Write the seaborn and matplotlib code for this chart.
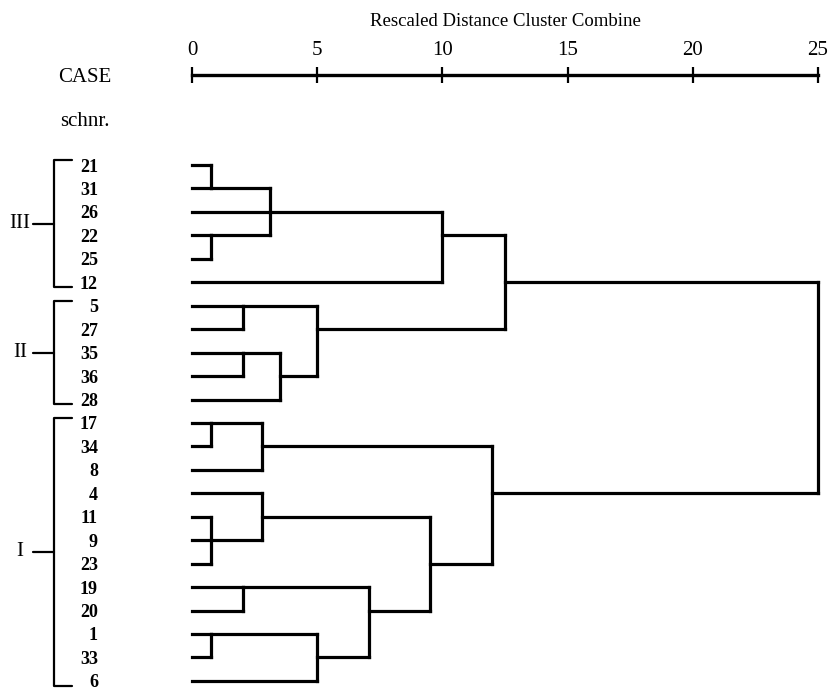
import numpy as np
import pandas as pd
import matplotlib
matplotlib.use("Agg")
import matplotlib.pyplot as plt
import matplotlib.transforms as mtransforms
import seaborn as sns

# ---------------- data ----------------
leaves = ["21", "31", "26", "22", "25", "12", "5", "27", "35", "36", "28",
          "17", "34", "8", "4", "11", "9", "23", "19", "20", "1", "33", "6"]

# merges: children are leaf indices (0..22) or merge ids (23 + k)
merge_children = [[0, 1], [3, 4], [23, 2, 24], [25, 5],
                  [6, 7], [8, 9], [28, 10], [27, 29], [26, 30],
                  [11, 12], [32, 13], [15, 16, 17], [14, 34], [18, 19],
                  [20, 21], [37, 22], [36, 38], [35, 39], [33, 40], [31, 41]]
merge_heights = [0.75, 0.75, 3.1, 10.0,
                 2.05, 2.05, 3.5, 5.0, 12.5,
                 0.75, 2.8, 0.75, 2.8, 2.05,
                 0.75, 5.0, 7.05, 9.5, 12.0, 25.0]
# row (leaf line) on which each merged cluster continues; root has none
merge_rows = [1, 3, 2, 3,
              6, 8, 9, 7, 5,
              11, 12, 16, 15, 18,
              20, 21, 19, 17, 14, None]

scale_ticks = [0, 5, 10, 15, 20, 25]
group_names = ["III", "II", "I"]
group_first = ["21", "5", "17"]
group_last = ["12", "28", "6"]

title = "Rescaled Distance Cluster Combine"

# ---------------- build segments ----------------
n = len(leaves)
node_row = {i: i for i in range(n)}
node_h = {i: 0.0 for i in range(n)}
parent = {}
for k, (ch, h, r) in enumerate(zip(merge_children, merge_heights, merge_rows)):
    nid = n + k
    node_row[nid] = r
    node_h[nid] = h
    for c in ch:
        parent[c] = nid

recs = []
seg = 0
for node, par in parent.items():
    r = node_row[node]
    recs += [(seg, node_h[node], r), (seg, node_h[par], r)]
    seg += 1
for k, ch in enumerate(merge_children):
    rows = [node_row[c] for c in ch]
    h = merge_heights[k]
    recs += [(seg, h, min(rows)), (seg, h, max(rows))]
    seg += 1
df = pd.DataFrame(recs, columns=["seg", "dist", "row"])

# ---------------- figure ----------------
sns.set_theme(style="white")
plt.rcParams["font.family"] = ["Liberation Serif", "DejaVu Serif"]

W, H = 837, 690
fig = plt.figure(figsize=(W / 100, H / 100), dpi=100)
fig.patch.set_facecolor("white")

def fx(px):
    return px / W

def fy(py):
    return 1 - py / H

AX_TOP = 75
ROW0 = 165
ROWSTEP = 23.45
X0, X1 = 192, 818

ax = fig.add_axes([fx(X0), 0, (X1 - X0) / W, (H - AX_TOP) / H])
ax.set_facecolor("white")

sns.lineplot(data=df, x="dist", y="row", units="seg", estimator=None,
             sort=False, color="black", linewidth=2.3, ax=ax, legend=False,
             solid_capstyle="projecting", clip_on=False)

ax.set_xlim(0, 25)
ax.set_ylim((H - ROW0) / ROWSTEP, (AX_TOP - ROW0) / ROWSTEP)
ax.set_xlabel("")
ax.set_ylabel("")

# top scale
ax.xaxis.tick_top()
ax.set_xticks(scale_ticks)
ax.set_xticklabels([str(t) for t in scale_ticks])
ax.tick_params(axis="x", direction="inout", length=12, width=1.6,
               colors="black", pad=5.0, labelsize=15,
               top=True, bottom=False, labeltop=True, labelbottom=False)
for side in ["left", "right", "bottom"]:
    ax.spines[side].set_visible(False)
ax.spines["top"].set_color("black")
ax.spines["top"].set_linewidth(2.4)

# case labels via y ticks
ax.set_yticks(range(n))
ax.set_yticklabels(leaves)
ax.tick_params(axis="y", length=0, pad=(X0 - 98) * 0.72, labelsize=13,
               colors="black", left=True)
for lbl in ax.get_yticklabels():
    lbl.set_fontweight("bold")

# header texts
fig.text(fx(505), fy(22), title, ha="center", va="center", fontsize=13.5,
         color="black")
fig.text(fx(85), fy(78), "CASE", ha="center", va="center", fontsize=15,
         color="black")
fig.text(fx(85), fy(121), "schnr.", ha="center", va="center", fontsize=15,
         color="black")

# group brackets
blend = mtransforms.blended_transform_factory(fig.transFigure, ax.transData)
for name, first, last in zip(group_names, group_first, group_last):
    r0 = leaves.index(first) - 0.2
    r1 = leaves.index(last) + 0.2
    mid = (leaves.index(first) + leaves.index(last)) / 2
    ax.plot([fx(72), fx(54), fx(54), fx(72)], [r0, r0, r1, r1],
            color="black", lw=1.6, transform=blend, clip_on=False)
    ax.plot([fx(33), fx(54)], [mid, mid], color="black", lw=1.6,
            transform=blend, clip_on=False)
    ax.text(fx(20), mid, name, ha="center", va="center", fontsize=15,
            transform=blend, color="black")

fig.savefig("out.png", dpi=100, facecolor="white")
